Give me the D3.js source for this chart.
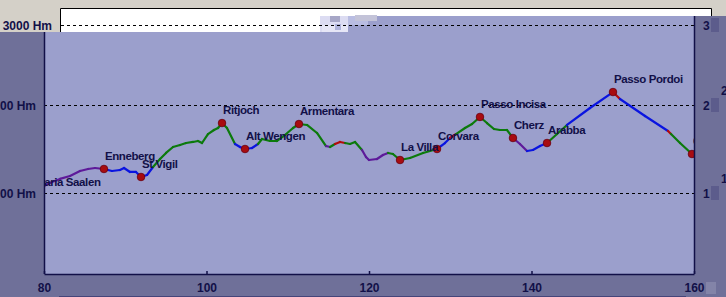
<!DOCTYPE html>
<html><head><meta charset="utf-8">
<script src="https://cdn.jsdelivr.net/npm/d3@7"></script>
<style>html,body{margin:0;padding:0;background:#d4d0c8;overflow:hidden}svg{display:block}</style>
</head><body><svg id="c" width="726" height="297"></svg>
<script>
// ---- data ----
const xTicks = [80, 100, 120, 140, 160];
const yGrid = [1000, 2000, 3000];
const yLabels = ["1000 Hm", "2000 Hm", "3000 Hm"];
const kms  = [78.77,80.0,80.98,81.97,83.2,84.43,85.42,86.28,87.38,88.37,89.35,89.85,90.58,91.32,91.94,92.68,93.42,94.28,95.02,95.88,96.74,97.48,98.34,98.95,99.45,100.18,100.92,101.42,101.91,102.52,103.51,104.12,104.74,105.6,106.34,106.83,107.82,108.68,109.66,110.65,111.38,112.37,113.6,114.71,115.2,115.82,116.43,117.05,117.66,118.28,119.14,119.63,120.0,120.98,121.72,122.34,122.95,123.82,125.05,126.65,128.37,129.35,129.97,130.71,131.82,132.68,133.66,134.52,135.38,136.12,136.98,137.72,138.58,139.45,140.18,141.05,141.91,143.14,144.37,147.2,150.03,150.89,153.97,156.8,157.17,158.28,159.75,160.98];
const elev = [977,1080,1125,1160,1193,1250,1273,1284,1273,1250,1261,1284,1239,1239,1182,1205,1295,1386,1455,1523,1545,1568,1580,1591,1568,1670,1716,1739,1795,1739,1557,1523,1500,1511,1557,1614,1591,1591,1659,1739,1784,1773,1682,1534,1523,1557,1580,1568,1557,1580,1489,1409,1375,1386,1432,1455,1443,1375,1398,1455,1500,1568,1625,1670,1739,1784,1864,1795,1727,1716,1716,1625,1557,1477,1489,1534,1568,1670,1773,1966,2162,2075,1875,1705,1670,1568,1443,1398];
// colour class of the segment leaving each point (P purple, B blue, G green, R red)
const segClass = "PPPPPPPP" + "BBBBBBBB" + "GGGGGGGGGGGGGG" + "BBBB" + "GGGGGGGGG" + "P" + "G" + "RR" + "GGG" +
                 "PPPPP" + "GGGGG" + "BB" + "R" + "GGGGGGGG" + "PP" + "BBB" + "GG" + "BB" + "R" + "BB" + "R" + "GGGG";
const places = ["Maria Saalen","Enneberg","St Vigil","Ritjoch","Alt Wengen","Armentara","La Villa","Corvara","Passo Incisa","Cherz","Arabba","Passo Pordoi","Canazei"];
const placeKm = [78.77,87.38,91.94,101.91,104.74,111.38,123.82,128.37,133.66,137.72,141.91,150.03,159.75];
const placeElev = [977,1273,1182,1795,1500,1784,1375,1500,1864,1625,1568,2162,1443];

// ---- drawing ----
const svg = d3.select("#c");
const L = 44, R = 694, T = 16, B = 274;
const x = d3.scaleLinear().domain([80, 160]).range([L, R]);
const y = d3.scaleLinear().domain([1000, 2000, 3000]).range([193, 105, 25]);
const segColor = {P: "#5e1a9a", B: "#0a14e0", G: "#0c7a0c", R: "#b40a0a"};
const navy = "#121048";
const panel = "#6f7099";
const font = "'Liberation Sans', Arial, sans-serif";

svg.append("rect").attr("x",0).attr("y",0).attr("width",726).attr("height",297).attr("fill","#d4d0c8");
svg.append("rect").attr("x",0).attr("y",32).attr("width",L).attr("height",265).attr("fill",panel);
svg.append("rect").attr("x",0).attr("y",B).attr("width",726).attr("height",23).attr("fill",panel);
svg.append("rect").attr("x",R).attr("y",T).attr("width",32).attr("height",281).attr("fill",panel);
svg.append("rect").attr("x",L).attr("y",T).attr("width",R-L).attr("height",B-T).attr("fill","#9b9fcc");
svg.append("line").attr("x1",59).attr("x2",686).attr("y1",296.5).attr("y2",296.5).attr("stroke","#45457a");

// ghost white strip at top
svg.append("rect").attr("x",L).attr("y",T).attr("width",16).attr("height",16).attr("fill","#d4d0c8");
svg.append("rect").attr("x",60).attr("y",8).attr("width",651).attr("height",8).attr("fill","#fff");
svg.append("rect").attr("x",60).attr("y",16).attr("width",260).attr("height",16).attr("fill","#fff");
svg.append("path").attr("d","M60.5,32V8.5H711.5V16").attr("fill","none").attr("stroke","#000");
// glitch patches
[[320,16,28,16,"#dcdcf2"],[348,16,20,9,"#b9bde2"],[330,16,10,6,"#a7a7c7"],[355,15,22,6,"#c3c3d8"],[322,25,26,7,"#e6e6f6"],[335,24,6,6,"#b0b4dc"]]
  .forEach(p => svg.append("rect").attr("x",p[0]).attr("y",p[1]).attr("width",p[2]).attr("height",p[3]).attr("fill",p[4]));

// gridlines
svg.append("g").selectAll("line").data(yGrid).join("line")
  .attr("x1", d => d === 3000 ? 61 : L).attr("x2", R)
  .attr("y1", d => Math.round(y(d)) + 0.5).attr("y2", d => Math.round(y(d)) + 0.5)
  .attr("stroke","#000").attr("stroke-dasharray","3,3");

// clip
svg.append("clipPath").attr("id","pc").append("rect").attr("x",L).attr("y",T).attr("width",R-L).attr("height",B-T);
const g = svg.append("g").attr("clip-path","url(#pc)");

const pts = kms.map((k,i) => [x(k), y(elev[i])]);
for (let i = 0; i < pts.length - 1; i++) {
  g.append("line").attr("x1",pts[i][0]).attr("y1",pts[i][1]).attr("x2",pts[i+1][0]).attr("y2",pts[i+1][1])
   .attr("stroke", segColor[segClass[i]]).attr("stroke-width",2.2).attr("stroke-linecap","round");
}
g.selectAll("circle.m").data(places).join("circle").attr("class","m")
  .attr("cx",(d,i)=>x(placeKm[i])).attr("cy",(d,i)=>y(placeElev[i])).attr("r",3.8)
  .attr("fill","#a80c10").attr("stroke","#6a0010").attr("stroke-width",0.8);
g.selectAll("text.p").data(places).join("text").attr("class","p")
  .attr("x",(d,i)=>x(placeKm[i]) + 1).attr("y",(d,i)=>y(placeElev[i]) - 9)
  .attr("font-family",font).attr("font-weight","bold").attr("font-size",11.5)
  .attr("letter-spacing","-0.4").attr("fill",navy).text(d=>d);

// axes
svg.append("line").attr("x1",L+0.5).attr("x2",L+0.5).attr("y1",32).attr("y2",B).attr("stroke",navy).attr("stroke-width",1.5);
svg.append("line").attr("x1",R+0.5).attr("x2",R+0.5).attr("y1",T).attr("y2",B).attr("stroke",navy).attr("stroke-width",1.5);
const xa = svg.append("g").attr("transform",`translate(0,${B})`)
  .call(d3.axisBottom(x).tickValues(xTicks).tickSize(-3).tickSizeOuter(0).tickPadding(9));
xa.select(".domain").attr("stroke",navy).attr("stroke-width",1.5);
xa.selectAll(".tick line").attr("stroke",navy).attr("stroke-width",1.5);
xa.selectAll("text").attr("font-family",font).attr("font-weight","bold")
  .attr("font-size",12).attr("fill",navy);

// y labels
svg.append("g").selectAll("text").data(yGrid).join("text")
  .attr("x", d => d === 3000 ? 52 : 36).attr("y", d => y(d) + 5)
  .attr("text-anchor","end").attr("font-family",font)
  .attr("font-weight","bold").attr("font-size",12).attr("fill",navy)
  .text((d,i) => yLabels[i]);

// right-hand ghost labels
yGrid.forEach((d,i) => {
  svg.append("rect").attr("x",711).attr("y",y(d)-7).attr("width",8).attr("height",14).attr("fill","#5c5c8c");
  svg.append("text").attr("x",703).attr("y",y(d)+5).attr("font-family",font)
    .attr("font-weight","bold").attr("font-size",12).attr("fill",navy).text(String(i+1));
});
[[2,90],[1,178]].forEach(p => svg.append("text").attr("x",721).attr("y",p[1]+5)
  .attr("font-family",font).attr("font-weight","bold").attr("font-size",12).attr("fill",navy).text(p[0]));
svg.append("rect").attr("x",706).attr("y",282).attr("width",10).attr("height",12).attr("fill","#8384a8");
</script></body></html>
